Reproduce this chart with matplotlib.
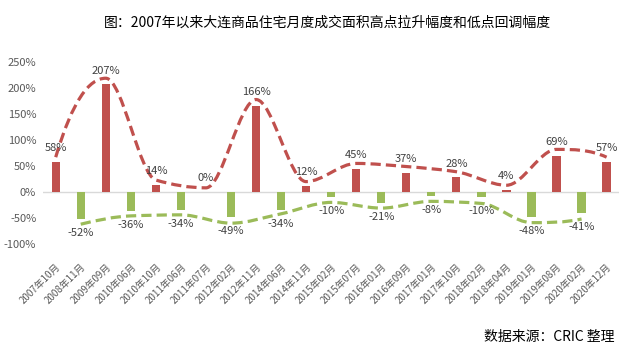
import numpy as np
import matplotlib
matplotlib.use('Agg')
import matplotlib.pyplot as plt
from matplotlib.path import Path
from matplotlib.patches import PathPatch
from matplotlib.ticker import FuncFormatter

plt.rcParams['font.family'] = ['Noto Sans CJK SC', 'DejaVu Sans']

months = ['2007年10月', '2008年11月', '2009年09月', '2010年06月', '2010年10月',
          '2011年06月', '2011年07月', '2012年02月', '2012年11月', '2014年06月',
          '2014年11月', '2015年02月', '2015年07月', '2016年01月', '2016年09月',
          '2017年01月', '2017年10月', '2018年02月', '2018年04月', '2019年01月',
          '2019年08月', '2020年02月', '2020年12月']
change = [58, -52, 207, -36, 14, -34, 0, -49, 166, -34, 12, -10, 45, -21,
          37, -8, 28, -10, 4, -48, 69, -41, 57]

# 趋势线（高点 / 低点）
high_idx = [0, 2, 4, 6, 8, 10, 12, 14, 16, 18, 20, 22]
high_trend = [67, 219, 23, 8, 178, 20, 55, 49, 39, 13, 82, 67]
low_idx = [1, 3, 5, 7, 9, 11, 13, 15, 17, 19, 21]
low_trend = [-62, -46, -44, -60, -42, -20, -31, -18, -22, -59, -52]

RED = '#C0504D'
GREEN = '#9BBB59'


def tangents(x, y):
    # shape preserving slopes (pchip)
    h = np.diff(x)
    d = np.diff(y) / h
    n = len(x)
    m = np.zeros(n)
    for k in range(1, n - 1):
        if d[k - 1] * d[k] > 0:
            w1 = 2 * h[k] + h[k - 1]
            w2 = h[k] + 2 * h[k - 1]
            m[k] = (w1 + w2) / (w1 / d[k - 1] + w2 / d[k])
    for k, (a, b, ha, hb) in [(0, (d[0], d[1], h[0], h[1])),
                              (n - 1, (d[-1], d[-2], h[-1], h[-2]))]:
        t = ((2 * ha + hb) * a - ha * b) / (ha + hb)
        if np.sign(t) != np.sign(a):
            t = 0
        elif np.sign(a) != np.sign(b) and abs(t) > abs(3 * a):
            t = 3 * a
        m[k] = t
    return m


def smooth_path(xs, ys):
    x = np.asarray(xs, float)
    y = np.asarray(ys, float)
    m = tangents(x, y)
    verts = [(x[0], y[0])]
    codes = [Path.MOVETO]
    for i in range(len(x) - 1):
        h = x[i + 1] - x[i]
        verts += [(x[i] + h / 3, y[i] + m[i] * h / 3),
                  (x[i + 1] - h / 3, y[i + 1] - m[i + 1] * h / 3),
                  (x[i + 1], y[i + 1])]
        codes += [Path.CURVE4] * 3
    return Path(verts, codes)


fig = plt.figure(figsize=(6.35, 3.51), dpi=100)
ax = fig.add_axes([0.068, 0.305, 0.907, 0.518])

x = np.arange(len(months))
colors = [RED if v >= 0 else GREEN for v in change]
ax.bar(x, change, width=0.33, color=colors, zorder=2)
ax.axhline(0, color='#D9D9D9', lw=1, zorder=1)

for xs, ys, c in [(high_idx, high_trend, RED), (low_idx, low_trend, GREEN)]:
    patch = PathPatch(smooth_path(xs, ys), facecolor='none', edgecolor=c,
                      lw=2.3, linestyle=(0, (3.2, 1.6)), zorder=3)
    ax.add_patch(patch)

for i, v in enumerate(change):
    off = 10 if v >= 0 else -10
    ax.annotate(f'{v}%', (i, v), xytext=(0, off), textcoords='offset points',
                ha='center', va='center', fontsize=8, color='#404040', zorder=4)

ax.set_xlim(-0.5, len(months) - 0.5)
ax.set_ylim(-100, 250)
ax.set_yticks(np.arange(-100, 251, 50))
ax.yaxis.set_major_formatter(FuncFormatter(lambda v, p: f'{v:.0f}%'))
ax.set_xticks(x)
ax.set_xticklabels(months, rotation=45, ha='right', rotation_mode='anchor')
ax.tick_params(axis='x', length=0, pad=13, labelsize=7, labelcolor='#595959')
ax.tick_params(axis='y', length=0, pad=5, labelsize=8, labelcolor='#595959')
for s in ax.spines.values():
    s.set_visible(False)

fig.text(0.515, 0.935, '图：2007年以来大连商品住宅月度成交面积高点拉升幅度和低点回调幅度',
         ha='center', va='center', fontsize=10, color='#000000')
fig.text(0.968, 0.04, '数据来源：CRIC 整理', ha='right', va='center',
         fontsize=10, color='#000000')

fig.savefig('out.png', dpi=100)
